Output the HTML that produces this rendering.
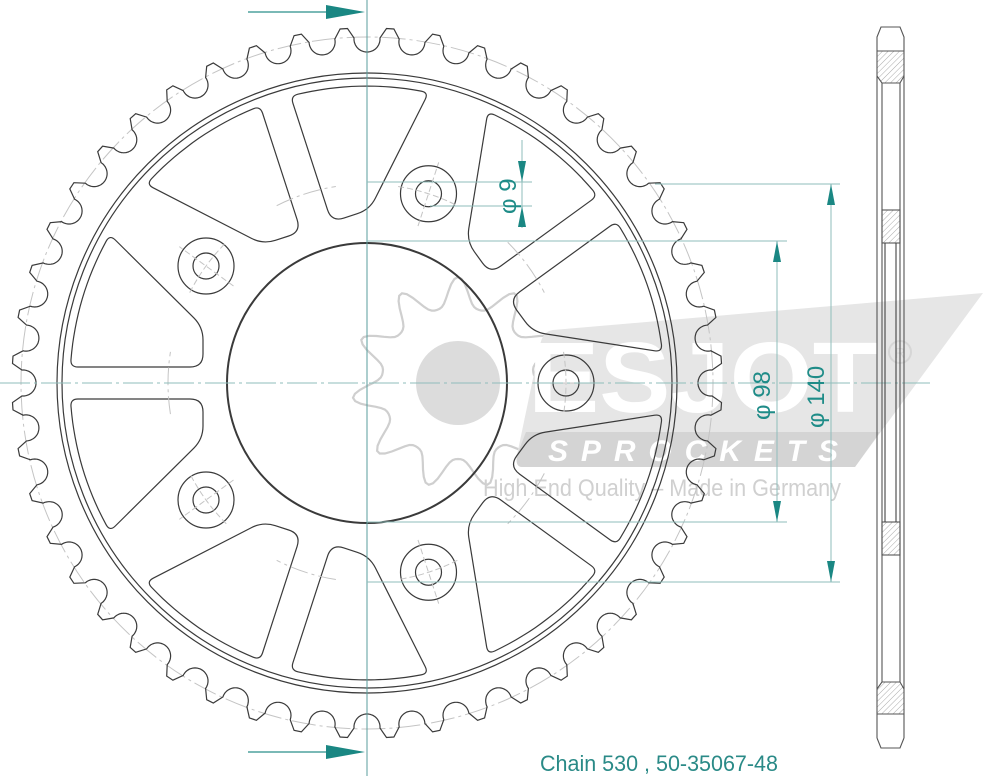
<!DOCTYPE html>
<html><head><meta charset="utf-8"><style>
html,body{margin:0;padding:0;background:#fff;}
svg{display:block;}
</style></head><body>
<svg id="s" width="1000" height="776" viewBox="0 0 1000 776" xmlns="http://www.w3.org/2000/svg">
<defs>
<pattern id="h" width="4" height="4" patternUnits="userSpaceOnUse" patternTransform="rotate(45)">
<rect width="4" height="4" fill="#fff"/><line x1="0" y1="0" x2="0" y2="4" stroke="#aaa" stroke-width="1"/>
</pattern>
</defs>
<g id="logo">
<path id="gear" fill="none" stroke="#cfcfcf" stroke-width="2.2"/>
<circle cx="458" cy="383" r="42" fill="#dcdcdc"/>
<path d="M553,330 L983,293 L855,467 L522,467 Q515,467 517,455 L540,345 Q543,331 553,330 Z" fill="#e6e6e6"/>
<path d="M526,432 L880,432 L855,467 L522,467 Q515,467 517,455 Z" fill="#d4d4d4"/>
<text x="528" y="412" font-family="Liberation Sans, sans-serif" font-weight="bold" font-size="100" fill="#fff" textLength="350" lengthAdjust="spacingAndGlyphs">ESJOT</text>
<text x="548" y="461" font-family="Liberation Sans, sans-serif" font-weight="bold" font-style="italic" font-size="30" fill="#fff" textLength="290" lengthAdjust="spacing">SPROCKETS</text>
<circle cx="900" cy="352" r="11" fill="none" stroke="#d6d6d6" stroke-width="2"/>
<text x="900" y="358" text-anchor="middle" font-family="Liberation Sans, sans-serif" font-size="15" fill="#d6d6d6">R</text>
<text x="483" y="496" font-family="Liberation Sans, sans-serif" font-size="24" fill="#d0d0d0" textLength="358" lengthAdjust="spacingAndGlyphs">High End Quality – Made in Germany</text>
</g>
<g id="draw" fill="none" stroke="#3a3a3a" stroke-width="1.2"></g>
<line x1="367" y1="0" x2="367" y2="776" stroke="#5a9e9c" stroke-width="1"/>
<line x1="0" y1="383" x2="930" y2="383" stroke="#8fbdbb" stroke-width="1" stroke-dasharray="30,4,3,4"/>
<line x1="248" y1="12" x2="326" y2="12" stroke="#2a8f8b" stroke-width="1.3"/>
<polygon points="326,5 365,12 326,19" fill="#1a8783"/>
<line x1="248" y1="752" x2="326" y2="752" stroke="#2a8f8b" stroke-width="1.3"/>
<polygon points="326,745 365,752 326,759" fill="#1a8783"/>
<g stroke="#8fbdbb" stroke-width="1">
<line x1="367" y1="182" x2="532" y2="182"/>
<line x1="430" y1="206" x2="532" y2="206"/>
<line x1="367" y1="241" x2="787" y2="241"/>
<line x1="367" y1="522" x2="787" y2="522"/>
<line x1="655" y1="184" x2="840" y2="184"/>
<line x1="367" y1="582" x2="840" y2="582"/>
<line x1="522" y1="140" x2="522" y2="228"/>
<line x1="777" y1="241" x2="777" y2="522"/>
<line x1="831" y1="184" x2="831" y2="582"/>
</g>
<g fill="#1a8783">
<polygon points="518,161 526,161 522,182"/>
<polygon points="518,227 526,227 522,206"/>
<polygon points="773,262 781,262 777,241"/>
<polygon points="773,501 781,501 777,522"/>
<polygon points="827,205 835,205 831,184"/>
<polygon points="827,561 835,561 831,582"/>
</g>
<g font-family="Liberation Sans, sans-serif" fill="#1f8c88" font-size="24">
<text transform="translate(516,214) rotate(-90)">φ 9</text>
<text transform="translate(770,420) rotate(-90)">φ 98</text>
<text transform="translate(824,428) rotate(-90)">φ 140</text>
</g>
<g fill="none" stroke="#555" stroke-width="1.1">
<rect x="877" y="51" width="27" height="25" fill="url(#h)" stroke="none"/>
<polygon points="882,83 899,83 904,76 877,76" fill="url(#h)" stroke="none"/>
<rect x="882" y="210" width="18" height="33" fill="url(#h)"/>
<rect x="882" y="522" width="18" height="33" fill="url(#h)"/>
<rect x="877" y="689" width="27" height="25" fill="url(#h)" stroke="none"/>
<polygon points="882,682 899,682 904,689 877,689" fill="url(#h)" stroke="none"/>
<path d="M877,738 L877,37 L881,27 L900,27 L904,37 L904,738 M877,738 L881,748 L900,748 L904,738"/>
<line x1="877" y1="51" x2="904" y2="51"/>
<line x1="877" y1="714" x2="904" y2="714"/>
<path d="M877,76 L882,83 L882,682 L877,689 M904,76 L900,83 L900,682 L904,689"/>
<line x1="882" y1="83" x2="900" y2="83"/>
<line x1="882" y1="682" x2="900" y2="682"/>
<line x1="885" y1="243" x2="885" y2="522" stroke="#444"/>
<line x1="896" y1="243" x2="896" y2="522" stroke="#444"/>
</g>
<text x="540" y="771" font-family="Liberation Sans, sans-serif" font-size="22" fill="#2a8a87" textLength="238" lengthAdjust="spacingAndGlyphs">Chain 530 , 50-35067-48</text>
</svg>
<script>
(function(){
var NS="http://www.w3.org/2000/svg",cx=367,cy=383,d=Math.PI/180;
var g=document.getElementById('draw');
function el(t,a,p){var e=document.createElementNS(NS,t);for(var k in a)e.setAttribute(k,a[k]);(p||g).appendChild(e);return e;}
function P(r,a){return [cx+r*Math.cos(a*d),cy+r*Math.sin(a*d)];}
el('circle',{cx:cx,cy:cy,r:346,stroke:'#c4c4c4','stroke-width':1,'stroke-dasharray':'24,4,3,4'});
var pts=[],rr=13,Rs=344;
for(var k=0;k<48;k++){
 var v=-90+7.5*k,u=[Math.cos(v*d),Math.sin(v*d)],t=[-Math.sin(v*d),Math.cos(v*d)];
 var C=[cx+Rs*u[0],cy+Rs*u[1]];
 for(var f=-95;f<=95;f+=5){var c=Math.cos(f*d),s=Math.sin(f*d);
  pts.push([C[0]+rr*(-u[0]*c+t[0]*s),C[1]+rr*(-u[1]*c+t[1]*s)]);}
 pts.push(P(355,v+3.75-0.6));pts.push(P(355,v+3.75+0.6));
}
el('path',{d:'M'+pts.map(function(p){return p[0].toFixed(1)+','+p[1].toFixed(1)}).join('L')+'Z'});
el('circle',{cx:cx,cy:cy,r:310});el('circle',{cx:cx,cy:cy,r:305});
el('circle',{cx:cx,cy:cy,r:140,'stroke-width':2});
function rounded(p,R){var n=p.length,s='';
 for(var i=0;i<n;i++){var a=p[(i-1+n)%n],b=p[i],c=p[(i+1)%n];
  var l1=Math.hypot(b[0]-a[0],b[1]-a[1]),l2=Math.hypot(c[0]-b[0],c[1]-b[1]);
  var r=Math.min(R,l1/2,l2/2);
  var q1=[b[0]+(a[0]-b[0])*r/l1,b[1]+(a[1]-b[1])*r/l1],q2=[b[0]+(c[0]-b[0])*r/l2,b[1]+(c[1]-b[1])*r/l2];
  s+=(i?'L':'M')+q1[0].toFixed(1)+','+q1[1].toFixed(1)+'Q'+b[0].toFixed(1)+','+b[1].toFixed(1)+' '+q2[0].toFixed(1)+','+q2[1].toFixed(1);}
 return s+'Z';}
[36,108,180,252,324].forEach(function(sa){
 var a=[Math.cos(sa*d),Math.sin(sa*d)],pp=[-Math.sin(sa*d),Math.cos(sa*d)];
 [1,-1].forEach(function(sg){
  var loc=[[164,16],[164,56]];
  for(var ang=30;ang>=3.1;ang-=3){loc.push([297*Math.cos(ang*d),297*Math.sin(ang*d)]);}
  loc.push([296.6,16]);
  var sp=loc.map(function(q){return [cx+q[0]*a[0]+sg*q[1]*pp[0],cy+q[0]*a[1]+sg*q[1]*pp[1]];});
  el('path',{d:rounded(sp,13)});
 });
 var p1=P(199,sa-9),p2=P(199,sa+9);
 el('path',{d:'M'+p1+' A199,199 0 0 1 '+p2,stroke:'#c4c4c4','stroke-width':1,'stroke-dasharray':'18,4,3,4'});
});
[0,72,144,216,288].forEach(function(ha){
 var c=P(199,-ha);
 el('circle',{cx:c[0],cy:c[1],r:28});el('circle',{cx:c[0],cy:c[1],r:13});
 var r1=P(165,-ha),r2=P(232,-ha),t1=P(199,-ha-9),t2=P(199,-ha+9);
 el('line',{x1:r1[0],y1:r1[1],x2:r2[0],y2:r2[1],stroke:'#c4c4c4','stroke-width':1,'stroke-dasharray':'6,3'});
 el('path',{d:'M'+t1+' A199,199 0 0 1 '+t2,stroke:'#c4c4c4','stroke-width':1,'stroke-dasharray':'6,3'});
});
var gp=[],gc=[458,383],N=11;
for(var i=0;i<=360;i+=2){var ph=(i*N)%360;var r=88+15*Math.cos(ph*d)+3*Math.cos(2*ph*d);
 gp.push((gc[0]+r*Math.cos((i-90)*d)).toFixed(1)+','+(gc[1]+r*Math.sin((i-90)*d)).toFixed(1));}
document.getElementById('gear').setAttribute('d','M'+gp.join('L')+'Z');
})();
</script>
</body></html>
